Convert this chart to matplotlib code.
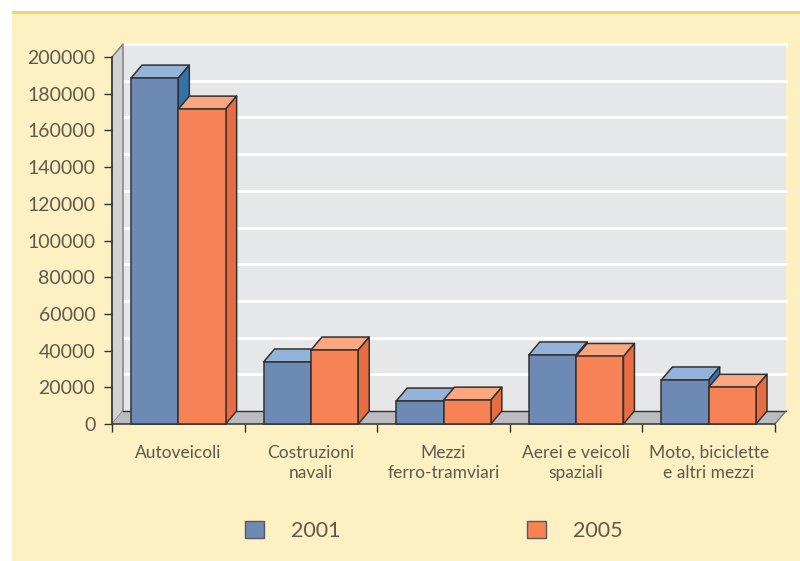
import matplotlib
matplotlib.use('Agg')
import matplotlib.pyplot as plt
from matplotlib.patches import Polygon, Rectangle, Patch
import numpy as np

categories = ['Autoveicoli', 'Costruzioni\nnavali', 'Mezzi\nferro-tramviari',
              'Aerei e veicoli\nspaziali', 'Moto, biciclette\ne altri mezzi']
values_2001 = [188500, 33800, 12500, 37600, 24000]
values_2005 = [171600, 40300, 13000, 36800, 20000]
y_ticks = [0, 20000, 40000, 60000, 80000, 100000, 120000, 140000, 160000, 180000, 200000]
series_names = ['2001', '2005']

W, H = 800, 561
TEXT = '#5f5a4c'
EDGE = '#33312f'
BLUE = ('#6d8ab5', '#94b3d8', '#3273ac')
ORANGE = ('#f78255', '#f9a77f', '#e76c41')

plt.rcParams['font.family'] = ['Lato', 'DejaVu Sans']

fig = plt.figure(figsize=(W / 100, H / 100), dpi=100, facecolor='white')

# yellow panel and the gold strip on top
fig.patches.append(Rectangle((12 / W, 0), (W - 12) / W, (H - 13) / H, transform=fig.transFigure,
                             facecolor='#fdf0c2', edgecolor='none', zorder=-2))
fig.patches.append(Rectangle((12 / W, (H - 14) / H), (W - 12) / W, 3 / H, transform=fig.transFigure,
                             facecolor='#fbd45c', edgecolor='none', zorder=-1))

ax = fig.add_axes([112 / W, (H - 424) / H, 663 / W, 367 / H])
ax.patch.set_alpha(0)
ax.set_xlim(0, 5)
ax.set_ylim(0, 200000)

# depth of the fake 3d, in data units
dx = 11 / 132.6
dy = 13 / 367 * 200000
width = 0.357
top = y_ticks[-1]
n = len(categories)


def poly(points, color, z, edge=EDGE, lw=1.1):
    ax.add_patch(Polygon(points, closed=True, facecolor=color, edgecolor=edge,
                         linewidth=lw, zorder=z, clip_on=False, joinstyle='round'))


# walls and floor
poly([(dx, dy), (dx, top + dy), (n + dx, top + dy), (n + dx, dy)], '#e6e7e9', 1, edge='none')
poly([(0, 0), (0, top), (dx, top + dy), (dx, dy)], '#d0d1d3', 1.5, edge='#77777a', lw=1.0)
poly([(0, 0), (dx, dy), (n + dx, dy), (n, 0)], '#bbbcc0', 1.5, edge='none')
ax.plot([dx, n + dx], [dy, dy], color=EDGE, lw=1.0, zorder=1.7, clip_on=False)
ax.plot([n, n + dx], [0, dy], color='#77777a', lw=1.0, zorder=1.7, clip_on=False)

for v in y_ticks[1:]:
    ax.plot([dx, n + dx], [v + dy, v + dy], color='white', lw=2.2, zorder=1.2, clip_on=False)

x = np.arange(n)
for i in range(n):
    for off, val, cols in ((0.143, values_2001[i], BLUE), (0.5, values_2005[i], ORANGE)):
        x0 = x[i] + off
        x1 = x0 + width
        z = 3 + i + off
        ax.bar(x0, val, width, align='edge', color=cols[0], edgecolor=EDGE, linewidth=1.1, zorder=z + 0.1,
               clip_on=False)
        poly([(x0, val), (x0 + dx, val + dy), (x1 + dx, val + dy), (x1, val)], cols[1], z)
        poly([(x1, 0), (x1 + dx, dy), (x1 + dx, val + dy), (x1, val)], cols[2], z)

for side in ('top', 'right'):
    ax.spines[side].set_visible(False)
for side in ('left', 'bottom'):
    ax.spines[side].set_color(EDGE)
    ax.spines[side].set_linewidth(1.1)
    ax.spines[side].set_zorder(2)

ax.set_yticks(y_ticks)
ax.set_yticklabels([str(v) for v in y_ticks])
ax.set_xticks(np.arange(n + 1))
ax.set_xticklabels([])
ax.set_xticks(x + 0.5, minor=True)
ax.set_xticklabels(categories, minor=True, fontsize=12.5, color=TEXT, linespacing=1.3)
ax.tick_params(axis='x', which='major', length=6, width=1.0, color=EDGE)
ax.tick_params(axis='x', which='minor', length=0, pad=15)
ax.tick_params(axis='y', length=6, width=1.0, color=EDGE, pad=6, labelsize=14, labelcolor=TEXT)

leg_handles = [Patch(facecolor=BLUE[0], edgecolor='#5a5a5a', linewidth=1.0),
               Patch(facecolor=ORANGE[0], edgecolor='#5a5a5a', linewidth=1.0)]
leg = fig.legend(leg_handles, series_names, ncol=2, frameon=False, fontsize=15.5,
                 loc='center left', bbox_to_anchor=(234 / W, (H - 531) / H),
                 handlelength=0.88, handleheight=0.88, handletextpad=1.25, columnspacing=8.7,
                 borderpad=0, labelcolor=TEXT)

fig.savefig('out.png', dpi=100, facecolor=fig.get_facecolor())
